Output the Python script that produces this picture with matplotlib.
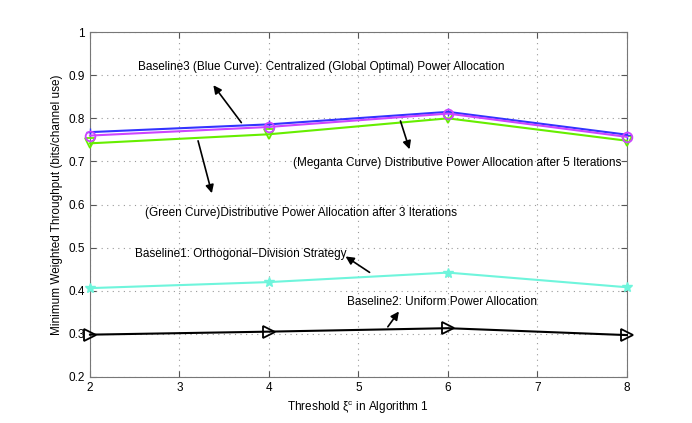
import matplotlib
matplotlib.use("Agg")
import matplotlib.pyplot as plt

plt.rcParams['font.family'] = ['Liberation Sans', 'DejaVu Sans']

x = [2, 4, 6, 8]
blue = [0.768, 0.786, 0.815, 0.762]
magenta = [0.760, 0.780, 0.811, 0.757]
green = [0.742, 0.763, 0.800, 0.748]
cyan = [0.406, 0.420, 0.442, 0.408]
black = [0.298, 0.305, 0.313, 0.297]

fig = plt.figure(figsize=(6.92, 4.23), dpi=100)
ax = fig.add_axes([0.130, 0.109, 0.776, 0.815])

ax.plot(x, black, color='black', lw=1.5, marker='>', ms=8, mfc='none', mew=1.3, clip_on=False, zorder=3)
ax.plot(x, cyan, color='#6ff5dc', lw=1.5, marker='*', ms=7, clip_on=False, zorder=3)
ax.plot(x, green, color='#66ee00', lw=1.5, marker='v', ms=7, mfc='none', mew=1.3, clip_on=False, zorder=3)
ax.plot(x, blue, color='#3333ff', lw=1.5, marker='+', ms=6, clip_on=False, zorder=3)
ax.plot(x, magenta, color='#cc44ff', lw=1.5, marker='o', ms=7, mfc='none', mew=1.3, clip_on=False, zorder=3)

ax.set_xlim(2, 8)
ax.set_ylim(0.2, 1.0)
ax.set_xticks([2, 3, 4, 5, 6, 7, 8])
ax.set_yticks([0.2, 0.3, 0.4, 0.5, 0.6, 0.7, 0.8, 0.9, 1.0])
ax.set_yticklabels(['0.2', '0.3', '0.4', '0.5', '0.6', '0.7', '0.8', '0.9', '1'])
ax.grid(True, linestyle=(0, (1, 4)), color='#999999', lw=0.8)
ax.tick_params(direction='in', labelsize=8.5, length=4, color='#555555', top=True, right=True)
for s in ax.spines.values():
    s.set_color('#777777')

ax.set_xlabel(r'Threshold $\mathregular{\xi^c}$ in Algorithm 1', fontsize=8.5)
ax.set_ylabel('Minimum Weighted Throughput (bits/channel use)', fontsize=8.5)

texts = [
    ('Baseline3 (Blue Curve): Centralized (Global Optimal) Power Allocation', 4.58, 0.919, (3.36, 0.882), (3.71, 0.785)),
    ('(Meganta Curve) Distributive Power Allocation after 5 Iterations', 6.10, 0.696, (5.58, 0.722), (5.46, 0.800)),
    ('(Green Curve)Distributive Power Allocation after 3 Iterations', 4.36, 0.580, (3.37, 0.620), (3.20, 0.754)),
    ('Baseline1: Orthogonal\u2212Division Strategy', 3.68, 0.485, (4.83, 0.483), (5.15, 0.439)),
    ('Baseline2: Uniform Power Allocation', 5.93, 0.374, (5.47, 0.357), (5.31, 0.311)),
]
for t, tx, ty, head, tail in texts:
    ax.text(tx, ty, t, fontsize=8.5, ha='center', va='center')
    ax.annotate('', xy=head, xytext=tail,
                arrowprops=dict(arrowstyle='-|>', color='black', lw=1.2, mutation_scale=12))

fig.savefig('out.png', dpi=100)
